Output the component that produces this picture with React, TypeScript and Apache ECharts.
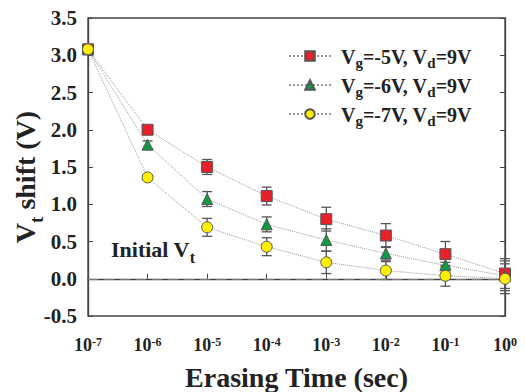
import React, { useEffect, useRef } from "react";
import * as echarts from "echarts";

const times = [1e-7, 1e-6, 1e-5, 1e-4, 1e-3, 1e-2, 1e-1, 1];
const vg5 = [3.08, 2.0, 1.5, 1.11, 0.8, 0.58, 0.33, 0.07];
const vg5Err = [0, 0.03, 0.1, 0.12, 0.16, 0.16, 0.17, 0.2];
const vg6 = [3.08, 1.8, 1.07, 0.73, 0.52, 0.34, 0.18, 0.04];
const vg6Err = [0, 0.05, 0.1, 0.1, 0.15, 0.09, 0.04, 0.2];
const vg7 = [3.08, 1.36, 0.69, 0.43, 0.22, 0.11, 0.04, 0.0];
const vg7Err = [0, 0.03, 0.12, 0.12, 0.15, 0.12, 0.14, 0.2];

const seriesNames = ["Vg=-5V, Vd=9V", "Vg=-6V, Vd=9V", "Vg=-7V, Vd=9V"];
const legendRich: Record<string, string> = {
  "Vg=-5V, Vd=9V": "{v|V}{s|g}{v|=-5V, V}{s|d}{v|=9V}",
  "Vg=-6V, Vd=9V": "{v|V}{s|g}{v|=-6V, V}{s|d}{v|=9V}",
  "Vg=-7V, Vd=9V": "{v|V}{s|g}{v|=-7V, V}{s|d}{v|=9V}",
};

const FONT = "'Liberation Serif', 'Times New Roman', serif";

function errSeries(values: number[], errs: number[], z: number) {
  return {
    type: "custom",
    silent: true,
    z,
    data: times.map((t, i) => [t, values[i], errs[i]]),
    renderItem: (params: any, api: any) => {
      const x = api.value(0);
      const y = api.value(1);
      const e = api.value(2);
      if (!e) return { type: "group", children: [] };
      const top = api.coord([x, y + e]);
      const bot = api.coord([x, y - e]);
      const hw = 5;
      const st = { stroke: "#555", lineWidth: 1.3 };
      return {
        type: "group",
        children: [
          { type: "line", shape: { x1: top[0], y1: top[1], x2: bot[0], y2: bot[1] }, style: st },
          { type: "line", shape: { x1: top[0] - hw, y1: top[1], x2: top[0] + hw, y2: top[1] }, style: st },
          { type: "line", shape: { x1: bot[0] - hw, y1: bot[1], x2: bot[0] + hw, y2: bot[1] }, style: st },
        ],
      };
    },
  };
}

function lineSeries(name: string, values: number[], symbol: string, color: string, z: number, extra: any = {}) {
  return {
    name,
    type: "line",
    z,
    data: times.map((t, i) => [t, values[i]]),
    symbol,
    symbolSize: 11,
    showAllSymbol: true,
    lineStyle: { color: "#999", width: 1, type: "dotted" },
    itemStyle: { color, borderColor: "#555", borderWidth: 1 },
    ...extra,
  };
}

export default function App() {
  const ref = useRef<HTMLDivElement>(null);
  useEffect(() => {
    if (!ref.current) return;
    const chart = echarts.init(ref.current, undefined, { renderer: "svg" });
    const axisColor = "#444";
    chart.setOption({
      animation: false,
      backgroundColor: "#fff",
      grid: {
        left: 88,
        right: 20,
        top: 18,
        bottom: 76,
        show: true,
        borderColor: axisColor,
        borderWidth: 1.3,
        outerBoundsMode: "none",
        containLabel: false,
      },
      legend: {
        orient: "vertical",
        left: 283,
        top: 42,
        itemWidth: 42,
        itemHeight: 12,
        itemGap: 6,
        data: seriesNames,
        formatter: (n: string) => legendRich[n],
        textStyle: {
          fontFamily: FONT,
          padding: [0, 0, 0, 5],
          rich: {
            v: { fontFamily: FONT, fontWeight: "bold", fontSize: 20, color: "#222", lineHeight: 22, verticalAlign: "bottom" },
            s: { fontFamily: FONT, fontWeight: "bold", fontSize: 15, color: "#222", height: 9, lineHeight: 9, verticalAlign: "bottom" },
          },
        },
      },
      xAxis: {
        type: "log",
        logBase: 10,
        min: 1e-7,
        max: 1,
        name: "Erasing Time (sec)",
        nameLocation: "middle",
        nameGap: 47,
        nameMoveOverlap: false,
        nameTextStyle: { fontFamily: FONT, fontWeight: "bold", fontSize: 28, color: "#222" },
        axisLine: { lineStyle: { color: axisColor, width: 1.3 } },
        axisTick: { inside: true, length: 5, lineStyle: { color: axisColor } },
        splitLine: { show: false },
        minorTick: { show: false },
        axisLabel: {
          margin: 20,
          formatter: (v: number) => `{b|10}{p|${Math.round(Math.log10(v))}}`,
          rich: {
            b: { fontFamily: FONT, fontWeight: "bold", fontSize: 18, color: "#222", lineHeight: 18, verticalAlign: "top" },
            p: { fontFamily: FONT, fontWeight: "bold", fontSize: 12, color: "#222", lineHeight: 10, verticalAlign: "top" },
          },
        },
      },
      yAxis: [
        {
          type: "value",
          min: -0.5,
          max: 3.5,
          interval: 0.5,
          name: "{v|V}{s|t}{v| shift (V)}",
          nameLocation: "middle",
          nameGap: 49,
          nameMoveOverlap: false,
          nameTextStyle: {
            padding: [0, 20, 0, 0],
            rich: {
              v: { fontFamily: FONT, fontWeight: "bold", fontSize: 28, color: "#222", lineHeight: 30, verticalAlign: "bottom" },
              s: { fontFamily: FONT, fontWeight: "bold", fontSize: 19, color: "#222", height: 6, lineHeight: 6, verticalAlign: "bottom" },
            },
          },
          axisLine: { show: true, lineStyle: { color: axisColor, width: 1.3 } },
          axisTick: { show: true, inside: true, length: 5, lineStyle: { color: axisColor } },
          splitLine: { show: false },
          axisLabel: {
            margin: 11,
            formatter: (v: number) => v.toFixed(1),
            fontFamily: FONT,
            fontWeight: "bold",
            fontSize: 21,
            color: "#222",
          },
        },
        {
          type: "value",
          position: "right",
          min: -0.5,
          max: 3.5,
          interval: 0.5,
          axisLine: { show: true, lineStyle: { color: axisColor, width: 1.3 } },
          axisTick: { show: true, inside: true, length: 5, lineStyle: { color: axisColor } },
          axisLabel: { show: false },
          splitLine: { show: false },
        },
      ],
      graphic: [
        {
          type: "text",
          left: 111,
          top: 238,
          style: {
            text: "{v|Initial V}{s|t}",
            rich: {
              v: { fontFamily: FONT, fontWeight: "bold", fontSize: 22, fill: "#222", lineHeight: 24, verticalAlign: "bottom" },
              s: { fontFamily: FONT, fontWeight: "bold", fontSize: 16, fill: "#222", height: 5, lineHeight: 5, verticalAlign: "bottom" },
            },
          } as any,
        },
      ],
      series: [
        errSeries(vg5, vg5Err, 2),
        errSeries(vg6, vg6Err, 2),
        errSeries(vg7, vg7Err, 2),
        lineSeries(seriesNames[0], vg5, "rect", "#e8202a", 3, {
          markLine: {
            silent: true,
            symbol: "none",
            label: { show: false },
            lineStyle: { color: "#777", type: [10, 6], width: 1.2 },
            data: [{ yAxis: 0 }],
          },
        }),
        lineSeries(seriesNames[1], vg6, "triangle", "#119944", 4),
        lineSeries(seriesNames[2], vg7, "circle", "#ffee00", 5),
      ],
    });
    return () => chart.dispose();
  }, []);
  return <div ref={ref} style={{ width: 525, height: 392, position: "absolute", left: 0, top: 0 }} />;
}
